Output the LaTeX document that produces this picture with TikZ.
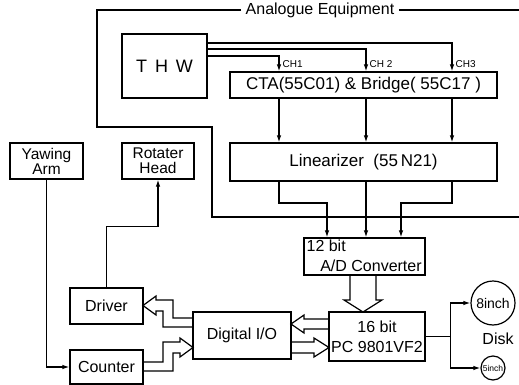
\documentclass[tikz,border=0pt]{standalone}
\usepackage{fontspec}
\setmainfont{Liberation Sans}
\usetikzlibrary{arrows.meta,calc}
\begin{document}
\begin{tikzpicture}[x=1pt,y=-1pt, line width=1.2pt,
  box/.style={draw, rectangle, inner sep=0pt, font=\fontsize{16}{18}\selectfont},
  lbl/.style={inner sep=0pt, font=\fontsize{16}{18}\selectfont},
  chl/.style={inner sep=0pt, anchor=west, font=\fontsize{10}{11}\selectfont},
  arr/.style={-{Latex[length=7pt,width=4.5pt]}},
  blk/.style={line join=miter}]
\useasboundingbox (0,0) rectangle (519,385);

% frame
\node[lbl, inner xsep=4pt] (ae) at (320,10) {Analogue Equipment};
\coordinate (fr) at (519,10);
\coordinate (fb) at (519,217);
\draw (ae.east) -- (fr);
\draw (ae.west) -- (97,10) -- (97,127) -- (212,127) -- (212,217) -- (fb);

% boxes
\node[box, minimum width=85pt, minimum height=64pt, font=\fontsize{18}{20}\selectfont] (thw) at (164.5,66) {T\hspace{8pt}H\hspace{8pt}W};
\node[box, minimum width=267pt, minimum height=26pt, font=\fontsize{17}{19}\selectfont] (cta) at (363.5,85) {CTA(55C01) \& Bridge( 55C17 )};
\node[box, minimum width=267pt, minimum height=38pt, font=\fontsize{17}{19}\selectfont] (lin) at (363.5,162) {Linearizer\ \ (55\,N21)};
\node[box, minimum width=121pt, minimum height=37pt] (ad) at (364.5,256.5) {};
\node[lbl, anchor=west] (ad1) at (306,246) {12 bit};
\node[lbl] (ad2) at (371,266) {A/D Converter};
\node[box, minimum width=96pt, minimum height=49pt, align=center, font=\fontsize{16}{20}\selectfont] (pc) at (377,336.5) {16 bit\\PC 9801VF2};
\node[box, minimum width=98pt, minimum height=47pt] (dio) at (242,335.5) {Digital I/O};
\node[box, minimum width=73pt, minimum height=36pt] (drv) at (106.5,306) {Driver};
\node[box, minimum width=73pt, minimum height=34pt] (cnt) at (106.5,367) {Counter};
\node[box, minimum width=73pt, minimum height=36pt, align=center, font=\fontsize{15.5}{15}\selectfont] (yaw) at (46.5,161) {Yawing\\Arm};
\node[box, minimum width=72pt, minimum height=36pt, align=center, font=\fontsize{15.5}{15}\selectfont] (rot) at (158,161) {Rotater\\Head};
\node[draw, circle, minimum size=44pt, inner sep=0pt, font=\fontsize{14}{16}\selectfont] (d8) at (493,303) {8inch};
\node[draw, circle, minimum size=24pt, inner sep=0pt, font=\fontsize{8.5}{9}\selectfont] (d5) at (493,368) {5inch};
\node[lbl] (disk) at (498,339) {Disk};

% THW to CTA
\coordinate (k1) at (279,56);
\coordinate (k2) at (366,49);
\coordinate (k3) at (452,43);
\draw[arr] (thw.east |- k1) -- (k1) -- (cta.north -| k1);
\draw[arr] (thw.east |- k2) -- (k2) -- (cta.north -| k2);
\draw[arr] (thw.east |- k3) -- (k3) -- (cta.north -| k3);
\node[chl] (ch1) at (282,64) {CH1};
\node[chl] (ch2) at (369,64) {CH 2};
\node[chl] (ch3) at (455,64) {CH3};

% CTA to Linearizer
\draw[arr] (cta.south -| k1) -- (lin.north -| k1);
\draw[arr] (cta.south -| k2) -- (lin.north -| k2);
\draw[arr] (cta.south -| k3) -- (lin.north -| k3);

% Linearizer to A/D
\coordinate (m1) at (327,203);
\coordinate (m3) at (401,203);
\draw[arr] (lin.south -| k1) |- (m1) -- (ad.north -| m1);
\draw[arr] (lin.south -| k2) -- (ad.north -| k2);
\draw[arr] (lin.south -| k3) |- (m3) -- (ad.north -| m3);

% Yawing arm to counter, driver to rotater head
\draw[arr] (yaw.south) |- (cnt.west);
\draw[arr] (drv.north) -- ++(0,-61) -| (rot.south);

% PC to disks
\draw (pc.east) -- ++(25,0) coordinate (dj);
\draw[arr] (dj) |- (d8.west);
\draw[arr] (dj) |- (d5.west);

% hollow block arrows
\draw[blk] (350,275) -- (350,300) -- (344,300) -- (363,312) -- (382,300) -- (376,300) -- (376,275);
\draw[blk] (329,319) -- (304,319) -- (304,315) -- (291,324) -- (304,333) -- (304,329) -- (329,329);
\draw[blk] (291,342) -- (314,342) -- (314,338) -- (329,347.5) -- (314,357) -- (314,353) -- (291,353);
\draw[blk] (193,318) -- (173,318) -- (173,300) -- (156,300) -- (156,296) -- (143,305.5) -- (156,315) -- (156,311) -- (163,311) -- (163,327) -- (193,327);
\draw[blk] (143,362) -- (163,362) -- (163,342) -- (180,342) -- (180,338) -- (193,347.5) -- (180,357) -- (180,353) -- (173,353) -- (173,371) -- (143,371);
\end{tikzpicture}
\end{document}
